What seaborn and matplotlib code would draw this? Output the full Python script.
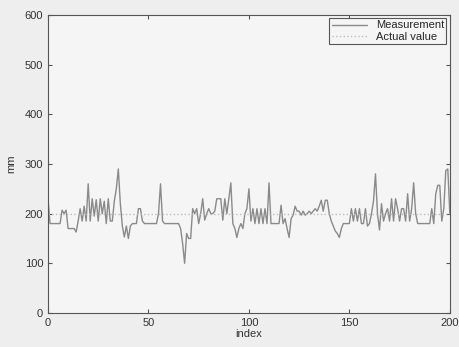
import numpy as np
import pandas as pd
import matplotlib
matplotlib.use('Agg')
import matplotlib.pyplot as plt
import seaborn as sns

# valores (mm)
measurement = [
    230, 180, 180, 180, 180, 180, 180, 207, 200, 207,
    170, 170, 170, 170, 163, 185, 210, 185, 215, 185,
    260, 185, 230, 195, 228, 185, 230, 200, 225, 180,
    230, 185, 185, 225, 250, 290, 220, 175, 153, 175,
    150, 175, 180, 180, 180, 210, 210, 185, 180, 180,
    180, 180, 180, 180, 180, 200, 260, 185, 180, 180,
    180, 180, 180, 180, 180, 180, 170, 140, 100, 160,
    150, 150, 210, 200, 210, 180, 200, 230, 187, 200,
    210, 200, 200, 205, 230, 230, 230, 187, 230, 200,
    230, 262, 180, 170, 152, 170, 180, 170, 200, 210,
    250, 185, 210, 180, 210, 180, 210, 180, 210, 180,
    262, 180, 180, 180, 180, 180, 217, 180, 190, 170,
    152, 190, 197, 215, 205, 205, 197, 205, 197, 200,
    205, 200, 205, 210, 205, 215, 227, 205, 227, 227,
    200, 185, 175, 165, 160, 152, 170, 180, 180, 180,
    180, 210, 185, 210, 185, 210, 180, 180, 210, 175,
    180, 200, 225, 280, 200, 167, 220, 185, 200, 210,
    185, 230, 185, 230, 210, 185, 210, 210, 185, 240,
    185, 210, 262, 200, 180, 180, 180, 180, 180, 180,
    180, 210, 180, 240, 257, 257, 185, 210, 287, 290,
    200,
]
actual_value = 200
index = np.arange(len(measurement))

df = pd.DataFrame({'index': index, 'mm': measurement})

sns.set_style('ticks')
plt.rcParams['font.family'] = ['Liberation Sans', 'DejaVu Sans']
plt.rcParams['font.size'] = 8

fig = plt.figure(figsize=(4.59, 3.47), dpi=100, facecolor='#eeeeee')
ax = fig.add_axes([0.1046, 0.098, 0.8754, 0.859])
ax.set_facecolor('#f5f5f5')

sns.lineplot(data=df, x='index', y='mm', ax=ax, color='#8a8a8a', linewidth=1.0,
             label='Measurement')
ax.plot([0, 200], [actual_value, actual_value], linestyle=':', color='#bdbdbd',
        linewidth=1.0, label='Actual value')

ax.set_xlim(0, 200)
ax.set_ylim(0, 600)
ax.set_xticks([0, 50, 100, 150, 200])
ax.set_yticks([0, 100, 200, 300, 400, 500, 600])
ax.set_xlabel('index', color='#333333', labelpad=1)
ax.set_ylabel('mm', color='#333333', labelpad=6)
ax.tick_params(direction='in', length=3, top=True, right=True, colors='#555555',
               labelcolor='#333333', labelsize=8)
for s in ax.spines.values():
    s.set_color('#555555')
    s.set_linewidth(0.8)

leg = ax.legend(loc='upper right', fontsize=8, frameon=True, fancybox=False,
                edgecolor='#555555', facecolor='#f5f5f5', framealpha=1,
                borderpad=0.2, handlelength=3.2, labelspacing=0.1,
                borderaxespad=0.3)
leg.get_frame().set_linewidth(0.8)

fig.savefig('out.png', dpi=100, facecolor=fig.get_facecolor())
